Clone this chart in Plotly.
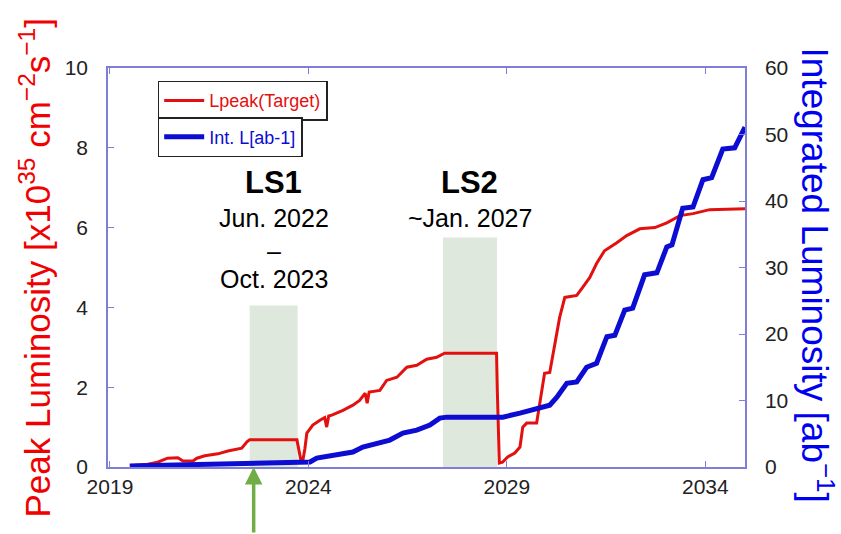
import plotly.graph_objects as go

# Peak luminosity (target), 10^35 cm^-2 s^-1
years_peak = [2019.50, 2019.95, 2020.20, 2020.33, 2020.45, 2020.71, 2020.84, 2021.09,
              2021.19, 2021.39, 2021.72, 2021.97, 2022.32, 2022.45, 2022.52, 2023.71,
              2023.76, 2023.81, 2023.86, 2023.91, 2023.96, 2024.11, 2024.29, 2024.41,
              2024.46, 2024.51, 2024.59, 2024.87, 2025.12, 2025.29, 2025.43, 2025.48,
              2025.53, 2025.80, 2025.97, 2026.23, 2026.48, 2026.73, 2026.98, 2027.23,
              2027.43, 2028.74, 2028.76, 2028.81, 2028.89, 2029.02, 2029.20, 2029.33,
              2029.40, 2029.50, 2029.75, 2029.83, 2029.95, 2030.08, 2030.21, 2030.33,
              2030.46, 2030.76, 2030.91, 2031.09, 2031.26, 2031.46, 2031.77, 2032.02,
              2032.35, 2032.73, 2033.03, 2033.36, 2033.69, 2034.11, 2035.00]
peak_lumi = [0.03, 0.07, 0.12, 0.17, 0.22, 0.23, 0.15, 0.15,
             0.22, 0.28, 0.33, 0.40, 0.47, 0.63, 0.68, 0.68,
             0.40, 0.17, 0.17, 0.45, 0.85, 1.05, 1.17, 1.24,
             1.00, 1.28, 1.30, 1.42, 1.55, 1.67, 1.85, 1.60,
             1.88, 1.92, 2.17, 2.25, 2.50, 2.55, 2.70, 2.75,
             2.85, 2.85, 1.90, 0.10, 0.12, 0.25, 0.35, 0.50,
             1.00, 1.10, 1.10, 1.60, 2.35, 2.37, 3.10, 3.75,
             4.25, 4.30, 4.50, 4.75, 5.10, 5.42, 5.62, 5.80,
             5.97, 6.00, 6.12, 6.30, 6.35, 6.45, 6.47]

# Integrated luminosity, ab^-1
years_int = [2019.50, 2022.22, 2022.52, 2023.71, 2023.86, 2024.04, 2024.21, 2024.46,
             2024.79, 2025.12, 2025.37, 2025.72, 2026.05, 2026.38, 2026.73, 2027.06,
             2027.31, 2027.49, 2028.90, 2029.33, 2029.58, 2029.83, 2030.08, 2030.26,
             2030.51, 2030.76, 2031.01, 2031.26, 2031.52, 2031.72, 2031.97, 2032.17,
             2032.47, 2032.78, 2033.03, 2033.16, 2033.43, 2033.69, 2033.94, 2034.16,
             2034.44, 2034.74, 2035.00]
int_lumi = [0.15, 0.45, 0.55, 0.60, 0.60, 0.75, 1.35, 1.65,
            1.95, 2.25, 3.00, 3.60, 4.05, 5.10, 5.55, 6.30,
            7.35, 7.50, 7.50, 8.10, 8.55, 8.85, 9.30, 10.5,
            12.6, 12.8, 15.0, 15.6, 19.6, 19.8, 23.6, 23.9,
            28.9, 29.2, 33.1, 33.4, 38.9, 39.1, 43.2, 43.5,
            47.8, 48.0, 51.1]

# Long shutdowns
shutdown_names = ["LS1", "LS2"]
shutdown_start = [2022.52, 2027.39]
shutdown_end = [2023.73, 2028.75]
shutdown_dates = [["Jun. 2022", "–", "Oct. 2023"], ["~Jan. 2027"]]
arrow_year = 2022.62

x_ticks = [2019, 2024, 2029, 2034]
left_ticks = [0, 2, 4, 6, 8, 10]
right_ticks = [0, 10, 20, 30, 40, 50, 60]

RED = "#e31010"
BLUE = "#0c0cd2"
FRAME = "#7f7fd8"
TICKFONT = dict(family="Arial, Liberation Sans, sans-serif", size=21, color="#222222")
LEGFONT = "Liberation Sans Narrow, Arial Narrow, Liberation Sans, Arial, sans-serif"

fig = go.Figure()
fig.add_trace(go.Scatter(x=years_peak, y=peak_lumi, mode="lines", name="Lpeak(Target)",
                         line=dict(color=RED, width=3), legend="legend", showlegend=True))
fig.add_trace(go.Scatter(x=years_int, y=int_lumi, mode="lines", name="Int. L[ab-1]",
                         line=dict(color=BLUE, width=5), yaxis="y2", legend="legend2",
                         showlegend=True))

# shaded shutdown periods and their labels
box_tops = [4.05, 5.75]
for name, x0, x1, dates, top in zip(shutdown_names, shutdown_start, shutdown_end,
                                    shutdown_dates, box_tops):
    fig.add_shape(type="rect", xref="x", yref="y", x0=x0, x1=x1, y0=0, y1=top,
                  fillcolor="#dfe8dc", line=dict(width=0), layer="below")
    xc = (x0 + x1) / 2
    fig.add_annotation(x=xc, y=7.12, xref="x", yref="y", text="<b>%s</b>" % name,
                       showarrow=False, font=dict(family="Arial, Liberation Sans", size=31, color="black"))
    line_y = [6.25, 5.42, 4.72]
    for txt, yy in zip(dates, line_y):
        fig.add_annotation(x=xc, y=yy, xref="x", yref="y", text=txt, showarrow=False,
                           font=dict(family="Arial, Liberation Sans", size=25, color="black"))

# green marker arrow below the axis
fig.add_annotation(x=arrow_year, y=0, xref="x", yref="y", text="", showarrow=True,
                   ax=0, ay=70, axref="pixel", ayref="pixel",
                   arrowhead=2, arrowsize=1, arrowwidth=3.5, arrowcolor="#70ad47")

# axis titles
fig.add_annotation(x=-0.1146, y=0.5, xref="paper", yref="paper", xanchor="center",
                   yanchor="middle", textangle=-90, showarrow=False,
                   text="Peak Luminosity [x10<sup>35</sup> cm<sup>−2</sup>s<sup>−1</sup>]",
                   font=dict(family="Arial, Liberation Sans", size=35, color="#f00000"))
fig.add_annotation(x=1.113, y=0.48, xref="paper", yref="paper", xanchor="center",
                   yanchor="middle", textangle=90, showarrow=False,
                   text="Integrated Luminosity [ab<sup>−1</sup>]",
                   font=dict(family="Arial, Liberation Sans", size=37, color="#0000f0"))

fig.update_layout(
    width=841, height=534,
    margin=dict(l=108, r=96, t=68, b=67),
    plot_bgcolor="white", paper_bgcolor="white",
    showlegend=True,
    xaxis=dict(range=[2018.95, 2035.0], tickvals=x_ticks, ticktext=[str(t) for t in x_ticks],
               ticks="inside", ticklen=6, tickcolor=FRAME, showline=True, linecolor=FRAME,
               linewidth=1.5, mirror="ticks", showgrid=False, zeroline=False, tickfont=TICKFONT),
    yaxis=dict(range=[0, 10], tickvals=left_ticks, ticks="inside", ticklen=6, tickcolor=FRAME,
               showline=True, linecolor=FRAME, linewidth=1.5, showgrid=False, zeroline=False,
               tickfont=TICKFONT, ticklabelstandoff=14),
    yaxis2=dict(range=[0, 60], tickvals=right_ticks, overlaying="y", side="right",
                ticks="inside", ticklen=6, tickcolor=FRAME, showline=True, linecolor=FRAME,
                linewidth=1.5, showgrid=False, zeroline=False, tickfont=TICKFONT,
                ticklabelstandoff=14),
    legend=dict(x=0.078, y=0.968, xanchor="left", yanchor="top", bgcolor="white",
                bordercolor="#222222", borderwidth=1.5, font=dict(family=LEGFONT, size=18, color=RED),
                itemwidth=40),
    legend2=dict(x=0.078, y=0.877, xanchor="left", yanchor="top", bgcolor="white",
                 bordercolor="#222222", borderwidth=1.5, font=dict(family=LEGFONT, size=18, color=BLUE),
                 itemwidth=40),
)

fig.write_html("out.html")
